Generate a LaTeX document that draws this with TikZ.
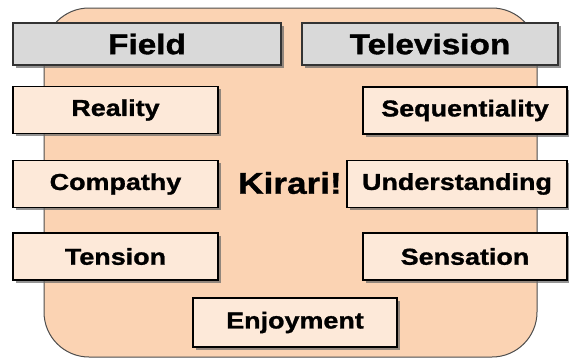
\documentclass[tikz,border=0pt]{standalone}
\usepackage{fontspec}
\setmainfont{Liberation Sans}[FakeStretch=1.17, BoldFeatures={FakeBold=1.2}]
\usepackage{tikz}
\usetikzlibrary{shadows}
\definecolor{peach}{HTML}{FBD3B3}
\definecolor{lightpeach}{HTML}{FDE9D9}
\definecolor{titlegray}{HTML}{D9D9D9}

\begin{document}
\begin{tikzpicture}[x=1pt, y=1pt,
    titlebox/.style={draw=black!80, line width=1.2pt, fill=titlegray,
        minimum width=#1, minimum height=42pt, inner sep=0pt,
        font=\fontsize{28.5}{30}\selectfont\bfseries,
        drop shadow={shadow xshift=2.5pt, shadow yshift=-2.5pt, fill=black!60, opacity=.7}},
    itembox/.style={draw=black, line width=1.6pt, fill=lightpeach,
        minimum width=#1, minimum height=47pt, inner sep=0pt,
        font=\fontsize{23}{25}\selectfont\bfseries,
        drop shadow={shadow xshift=2.5pt, shadow yshift=-2.5pt, fill=black!60, opacity=.7}}]
    \useasboundingbox (0,0) rectangle (569,360);

    % Background panel (peach)
    \draw[draw=black!70, line width=1pt, fill=peach, rounded corners=45pt] (44,3) rectangle (537,352);

    % Column headings
    \node[titlebox=268pt] (field) at (147,316) {Field};
    \node[titlebox=256pt] (tv) at (430,316) {Television};

    % Left column
    \node[itembox=205pt] (reality) at (115.5,250) {Reality};
    \node[itembox=205pt] (compathy) at (115.5,176) {Compathy};
    \node[itembox=205pt] (tension) at (115.5,103.5) {Tension};

    % Right column
    \node[itembox=204pt] (sequ) at (465,249.5) {Sequentiality};
    \node[itembox=220pt] (underst) at (457,176) {Understanding};
    \node[itembox=204pt] (sensation) at (465,103.5) {Sensation};

    % Bottom
    \node[itembox=204pt, minimum height=49pt] (enjoy) at (295,37.5) {Enjoyment};

    % Centre word
    \node[font=\fontsize{30}{32}\selectfont\bfseries] (kirari) at (290,177) {Kirari!};
\end{tikzpicture}
\end{document}
